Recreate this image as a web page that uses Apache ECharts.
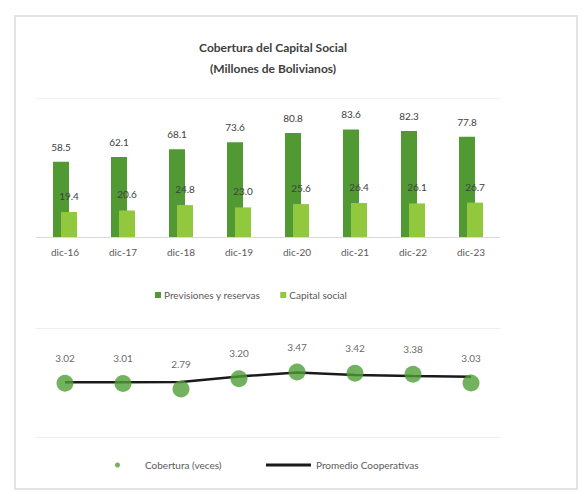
<!DOCTYPE html>
<html>
<head>
<meta charset="utf-8">
<script src="https://cdn.jsdelivr.net/npm/echarts@6/dist/echarts.min.js"></script>
<style>html,body{margin:0;padding:0;background:#fff}#c{width:586px;height:492px}</style>
</head>
<body>
<div id="c"></div>
<script>
const categories = ['dic-16','dic-17','dic-18','dic-19','dic-20','dic-21','dic-22','dic-23'];
const previsiones = [58.5, 62.1, 68.1, 73.6, 80.8, 83.6, 82.3, 77.8];
const capitalSocial = [19.4, 20.6, 24.8, 23.0, 25.6, 26.4, 26.1, 26.7];
const cobertura = [3.02, 3.01, 2.79, 3.20, 3.47, 3.42, 3.38, 3.03];
const promedio = [3.06, 3.06, 3.07, 3.29, 3.45, 3.35, 3.31, 3.28];

const FONT = 'Lato';
const chart = echarts.init(document.getElementById('c'), null, {renderer: 'svg'});
const lbl = {show: true, position: 'top', distance: 10, fontSize: 10, color: '#404040', fontFamily: FONT,
  formatter: p => p.value.toFixed(1)};
chart.setOption({
  animation: false,
  backgroundColor: '#fff',
  textStyle: {fontFamily: FONT},
  graphic: [{type: 'rect', shape: {x: 15, y: 16, width: 562, height: 473},
    style: {fill: 'none', stroke: '#dcdcdc', lineWidth: 1.5}, silent: true}],
  title: {text: 'Cobertura del Capital Social\n(Millones de Bolivianos)', left: 268, top: 32, textAlign: 'center',
    textStyle: {fontSize: 12, fontWeight: 'bold', color: '#404040', lineHeight: 21, fontFamily: FONT}},
  legend: [
    {data: ['Previsiones y reservas', 'Capital social'], left: 155, top: 290, padding: 0,
      itemWidth: 6, itemHeight: 6, itemGap: 20, icon: 'rect',
      textStyle: {fontSize: 10, color: '#595959', fontFamily: FONT, padding: [0,0,0,-2]}},
    {data: ['Cobertura (veces)'], left: 115, top: 460, padding: 0, itemWidth: 5, itemHeight: 5,
      textStyle: {fontSize: 10, color: '#595959', fontFamily: FONT, padding: [0,0,0,20]}},
    {data: [{name: 'Promedio Cooperativas', icon: 'rect'}], left: 266, top: 460, padding: 0, itemWidth: 45, itemHeight: 3,
      textStyle: {fontSize: 10, color: '#595959', fontFamily: FONT}}
  ],
  grid: [
    {left: 36, width: 464, top: 98, height: 139},
    {left: 36, width: 464, top: 328, height: 109}
  ],
  xAxis: [
    {gridIndex: 0, type: 'category', data: categories, axisTick: {show: false},
      axisLine: {lineStyle: {color: '#d9d9d9', width: 1}},
      axisLabel: {fontSize: 10, color: '#595959', margin: 10, fontFamily: FONT}},
    {gridIndex: 1, type: 'category', data: categories, axisTick: {show: false},
      axisLine: {lineStyle: {color: '#eeeeee', width: 1}}, axisLabel: {show: false}},
    {gridIndex: 1, type: 'category', data: categories, position: 'top', axisTick: {show: false},
      axisLine: {lineStyle: {color: '#eeeeee', width: 1}}, axisLabel: {show: false}}
  ],
  yAxis: [
    {gridIndex: 0, type: 'value', min: 0, max: 108, interval: 108, axisLabel: {show: false},
      axisLine: {show: false}, axisTick: {show: false}, splitLine: {lineStyle: {color: '#f2f2f2'}}},
    {gridIndex: 1, type: 'value', min: 0.87, max: 5.23, show: false, splitLine: {show: false}}
  ],
  series: [
    {name: 'Previsiones y reservas', type: 'bar', xAxisIndex: 0, yAxisIndex: 0, data: previsiones,
      barWidth: 16, barGap: '-50%', itemStyle: {color: '#519a33'}, label: lbl},
    {name: 'Capital social', type: 'bar', xAxisIndex: 0, yAxisIndex: 0, data: capitalSocial,
      barWidth: 16, itemStyle: {color: '#92c83e'}, label: Object.assign({}, lbl, {distance: 11})},
    {name: 'Promedio Cooperativas', type: 'line', xAxisIndex: 1, yAxisIndex: 1, data: promedio,
      symbol: 'none', lineStyle: {color: '#1a1a1a', width: 2.5}, itemStyle: {color: '#1a1a1a'}, z: 2},
    {name: 'Cobertura (veces)', type: 'scatter', xAxisIndex: 1, yAxisIndex: 1, data: cobertura,
      symbol: 'circle', symbolSize: 17, itemStyle: {color: '#4f9e36'}, z: 3,
      label: {show: true, position: 'top', distance: 12, fontSize: 10, color: '#404040', fontFamily: FONT,
        formatter: p => p.value.toFixed(2)}}
  ]
});
</script>
</body>
</html>
